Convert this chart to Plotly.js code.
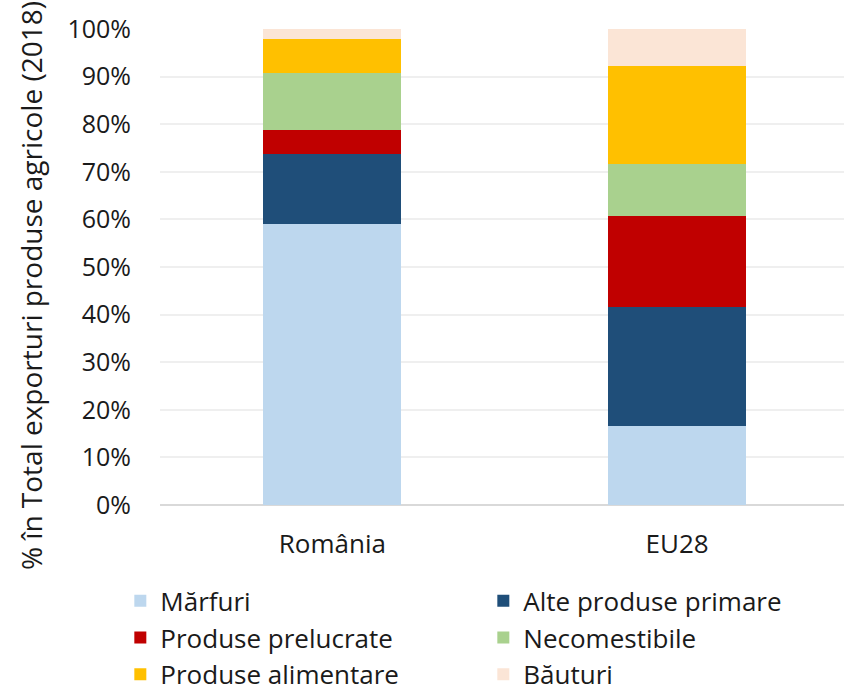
<!DOCTYPE html>
<html>
<head>
<meta charset="utf-8">
<script src="https://cdn.plot.ly/plotly-3.0.1.min.js"></script>
<style>html,body{margin:0;padding:0;overflow:hidden;background:#fff}</style>
</head>
<body>
<div id="chart" style="width:844px;height:693px"></div>
<script>
const categories = ["România", "EU28"];
const seriesNames = ["Mărfuri", "Alte produse primare", "Produse prelucrate", "Necomestibile", "Produse alimentare", "Băuturi"];
const marfuri = [59.0, 16.5];
const alteProdusePrimare = [14.8, 25.0];
const produsePrelucrate = [5.0, 19.3];
const necomestibile = [11.9, 10.9];
const produseAlimentare = [7.3, 20.6];
const bauturi = [2.0, 7.7];
const yTickLabels = ["0%", "10%", "20%", "30%", "40%", "50%", "60%", "70%", "80%", "90%", "100%"];
const yTickVals = [0, 10, 20, 30, 40, 50, 60, 70, 80, 90, 100];
const yTitle = "% în Total exporturi produse agricole (2018)";

const colors = ["#BDD7EE", "#1F4E79", "#C00000", "#A9D18E", "#FFC000", "#FBE5D6"];
const values = [marfuri, alteProdusePrimare, produsePrelucrate, necomestibile, produseAlimentare, bauturi];

const FONT = "Open Sans, Noto Sans, sans-serif";
const traces = seriesNames.map((n, i) => ({
  type: "bar",
  name: n,
  x: categories,
  y: values[i],
  width: 0.4,
  marker: {color: colors[i], line: {width: 0}},
  hoverinfo: "name+y"
}));

const layout = {
  width: 844, height: 693,
  barmode: "stack",
  margin: {l: 160, r: 0, t: 29, b: 188, autoexpand: false},
  paper_bgcolor: "#fff", plot_bgcolor: "#fff",
  font: {family: FONT, size: 24, color: "#1a1a1a"},
  xaxis: {
    type: "category",
    range: [-0.5, 1.484],
    showgrid: false, zeroline: false, showline: false,
    ticks: "", ticklabelstandoff: 21,
    tickfont: {size: 26, color: "#1a1a1a"}
  },
  yaxis: {
    range: [0, 100],
    tickvals: yTickVals, ticktext: yTickLabels,
    showgrid: true, gridcolor: "#efefef", gridwidth: 2,
    zeroline: true, zerolinecolor: "#d9d9d9", zerolinewidth: 2,
    showline: false, ticks: "",
    ticklabelstandoff: 28,
    tickfont: {size: 25, color: "#1a1a1a"}
  },
  annotations: [{
    text: yTitle, textangle: -90,
    xref: "paper", yref: "paper",
    x: -0.1886, y: 0.462, xanchor: "center", yanchor: "middle",
    showarrow: false,
    font: {size: 28, color: "#1a1a1a"}
  }],
  showlegend: true,
  legend: {
    orientation: "h",
    xref: "paper", yref: "paper",
    x: -0.058, y: -0.152, xanchor: "left", yanchor: "top",
    entrywidth: 318, entrywidthmode: "pixels",
    traceorder: "normal",
    font: {size: 26, color: "#1a1a1a"},
    borderwidth: 0,
    bgcolor: "rgba(0,0,0,0)"
  }
};

Plotly.newPlot("chart", traces, layout, {displayModeBar: false, staticPlot: true});
</script>
</body>
</html>
